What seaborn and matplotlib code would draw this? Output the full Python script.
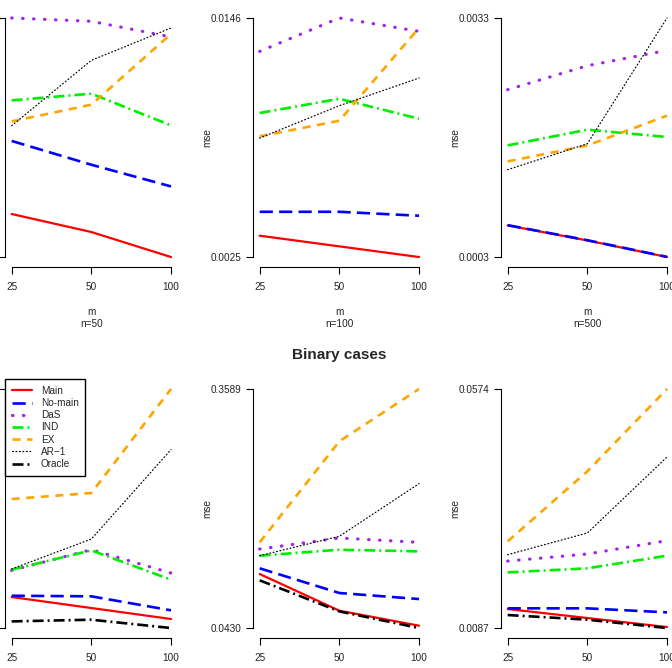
import pandas as pd
import seaborn as sns
import matplotlib.pyplot as plt

sns.set_style("ticks")
plt.rcParams['font.family'] = ['Liberation Sans', 'DejaVu Sans']
plt.rcParams['lines.scale_dashes'] = False

m_labels = ["25", "50", "100"]
n_labels = ["n=50", "n=100", "n=500"]
methods = ["Main", "No-main", "DaS", "IND", "EX", "AR\u22121", "Oracle"]

# continuous cases (top row)
c50_main = [0.00867, 0.00705, 0.0048]
c50_nomain = [0.01524, 0.0131, 0.01115]
c50_das = [0.0263, 0.0260, 0.02459]
c50_ind = [0.01889, 0.01949, 0.01664]
c50_ex = [0.0170, 0.0185, 0.02486]
c50_ar1 = [0.01661, 0.02249, 0.0254]

c100_main = [0.00358, 0.00304, 0.0025]
c100_nomain = [0.00479, 0.00479, 0.00459]
c100_das = [0.01291, 0.0146, 0.01392]
c100_ind = [0.00979, 0.01051, 0.0095]
c100_ex = [0.00861, 0.0094, 0.0141]
c100_ar1 = [0.00852, 0.01016, 0.01156]

c500_main = [0.000697, 0.000508, 0.0003]
c500_nomain = [0.0007, 0.000511, 0.000302]
c500_das = [0.0024, 0.002701, 0.002893]
c500_ind = [0.001701, 0.001898, 0.001806]
c500_ex = [0.0015, 0.0017, 0.002074]
c500_ar1 = [0.001396, 0.001722, 0.0033]

# binary cases (bottom row)
b50_main = [0.065, 0.0526, 0.0402]
b50_nomain = [0.0665, 0.0658, 0.0500]
b50_das = [0.0951, 0.1185, 0.0921]
b50_ind = [0.0959, 0.1177, 0.0846]
b50_ex = [0.1757, 0.1825, 0.30]
b50_ar1 = [0.0967, 0.1305, 0.2315]
b50_oracle = [0.0375, 0.0394, 0.03]

b100_main = [0.1144, 0.0659, 0.0461]
b100_nomain = [0.1219, 0.0893, 0.0813]
b100_das = [0.1474, 0.162, 0.1562]
b100_ind = [0.1386, 0.1465, 0.1443]
b100_ex = [0.1562, 0.2897, 0.3589]
b100_ar1 = [0.1386, 0.1642, 0.2338]
b100_oracle = [0.106, 0.065, 0.043]

b500_main = [0.01257, 0.01074, 0.0089]
b500_nomain = [0.01271, 0.01271, 0.01189]
b500_das = [0.02235, 0.02378, 0.0265]
b500_ind = [0.02004, 0.02086, 0.02344]
b500_ex = [0.02636, 0.04062, 0.0574]
b500_ar1 = [0.02364, 0.02806, 0.04354]
b500_oracle = [0.01135, 0.0104, 0.0087]

panels = [
    [c50_main, c50_nomain, c50_das, c50_ind, c50_ex, c50_ar1, None],
    [c100_main, c100_nomain, c100_das, c100_ind, c100_ex, c100_ar1, None],
    [c500_main, c500_nomain, c500_das, c500_ind, c500_ex, c500_ar1, None],
    [b50_main, b50_nomain, b50_das, b50_ind, b50_ex, b50_ar1, b50_oracle],
    [b100_main, b100_nomain, b100_das, b100_ind, b100_ex, b100_ar1, b100_oracle],
    [b500_main, b500_nomain, b500_das, b500_ind, b500_ex, b500_ar1, b500_oracle],
]

rows = []
for p, series in enumerate(panels):
    for meth, vals in zip(methods, series):
        if vals is None:
            continue
        for i, v in enumerate(vals):
            rows.append({"panel": p, "method": meth, "pos": i, "mse": v})
df = pd.DataFrame(rows)

# R-like line styles
styles = {
    "Main": dict(color="#FF0000", lw=1.6, linestyle="-"),
    "No-main": dict(color="#0000FF", lw=1.9, dashes=(9.5, 4.5)),
    "DaS": dict(color="#A020F0", lw=2.3, dashes=(0.3, 7.6), dash_capstyle="round"),
    "IND": dict(color="#00EE00", lw=1.9, dashes=(7.9, 2.9, 1.4, 2.9)),
    "EX": dict(color="#FFA500", lw=1.9, dashes=(5.8, 4.7)),
    "AR\u22121": dict(color="black", lw=0.9, dashes=(0.6, 1.9), dash_capstyle="round"),
    "Oracle": dict(color="black", lw=1.9, dashes=(7.9, 2.9, 1.4, 2.9)),
}

W, H = 672, 668
fig = plt.figure(figsize=(W / 100, H / 100), dpi=100)
lefts = [5.3, 253.3, 501.3]
width = 172.1
bottoms = [266.6, 637.6]
height = 258.2

for p in range(6):
    r, c = divmod(p, 3)
    ax = fig.add_axes([lefts[c] / W, 1 - bottoms[r] / H, width / W, height / H])
    sub = df[df["panel"] == p]
    for meth in methods:
        d = sub[sub["method"] == meth]
        if d.empty:
            continue
        sns.lineplot(data=d, x="pos", y="mse", ax=ax, label=meth,
                     errorbar=None, legend=False, **styles[meth])
    lo, hi = sub["mse"].min(), sub["mse"].max()
    rng = hi - lo
    ax.set_xlim(-0.08, 2.08)
    ax.set_ylim(lo - 0.04 * rng, hi + 0.04 * rng)
    ax.set_xticks([0, 1, 2])
    ax.set_xticklabels(m_labels)
    ax.set_yticks([lo, hi])
    ax.set_yticklabels([f"{lo:.4f}", f"{hi:.4f}"])
    for s in ["top", "right"]:
        ax.spines[s].set_visible(False)
    ax.spines["left"].set_bounds(lo, hi)
    ax.spines["bottom"].set_bounds(0, 2)
    for s in ["left", "bottom"]:
        ax.spines[s].set_color("black")
        ax.spines[s].set_linewidth(0.8)
    ax.tick_params(axis="both", length=4.8, width=0.8, color="black",
                   labelsize=7.2, labelcolor="#222222")
    ax.tick_params(axis="x", pad=6)
    ax.tick_params(axis="y", pad=3.8)
    ax.set_ylabel("mse", fontsize=7.2, color="#222222")
    ax.yaxis.set_label_coords(-41 / width, 0.5)
    ax.set_xlabel("m\n" + n_labels[c], fontsize=7.2, color="#222222", linespacing=1.3)
    ax.xaxis.set_label_coords(0.5, -40 / height)
    ax.grid(False)
    if p == 3:
        ax.legend(loc="upper left", bbox_to_anchor=(0, 1.0), borderaxespad=0,
                  fontsize=7.2, frameon=True, fancybox=False, edgecolor="black",
                  framealpha=1, handlelength=2.0, handletextpad=0.9,
                  labelspacing=0.22, borderpad=0.65)

fig.text(339.3 / W, 1 - 355 / H, "Binary cases", ha="center", va="center",
         fontsize=11, fontweight="bold")

fig.savefig("out.png", dpi=100)
